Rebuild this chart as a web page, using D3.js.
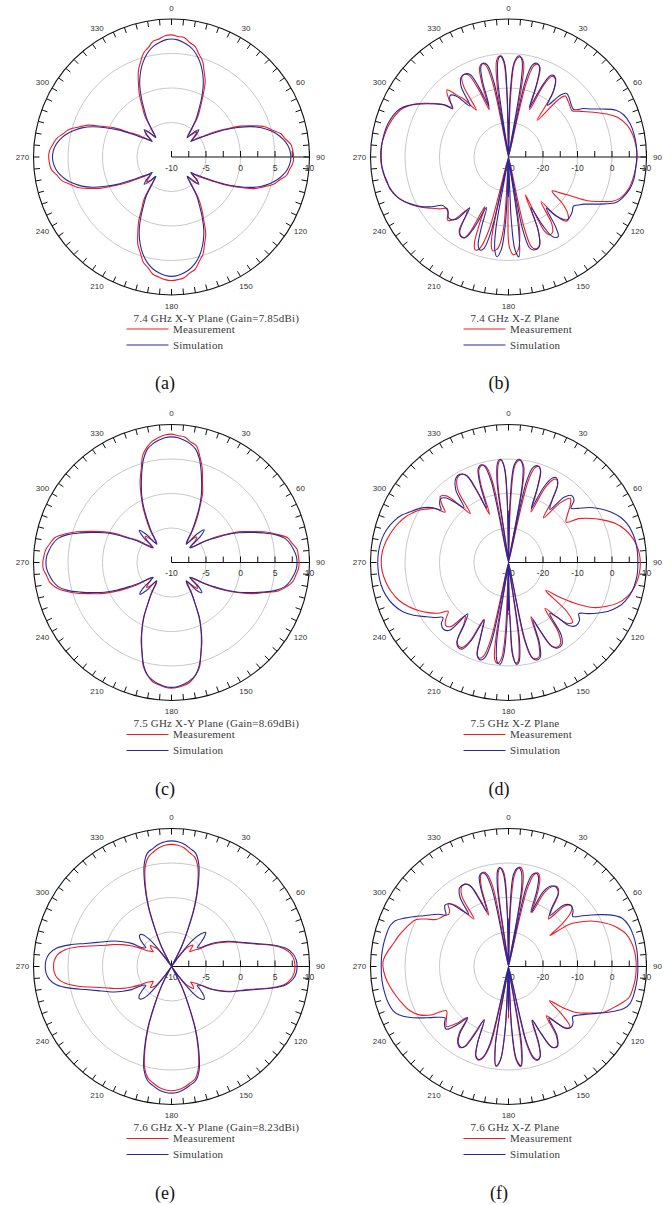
<!DOCTYPE html>
<html>
<head>
<meta charset="utf-8">
<script src="https://cdn.jsdelivr.net/npm/d3@7/dist/d3.min.js"></script>
<style>
  html, body { margin: 0; padding: 0; background: #fff; }
  svg { display: block; }
</style>
</head>
<body>
<svg id="chart" width="672" height="1205"></svg>
<script>
// ---------- X-Y plane cuts: gain (dBi) every 3 degrees, starting at 0 deg ----------
const xyStep = 3;

const xy74Meas = [
  7.7, 7.5, 7.4, 6.8, 6.4, 5.4, 4.6, 3.2, 2.0, 0.1, -1.6, -3.0, -5.0, -6.0, -5.6, -4.8, -5.5, -6.2, -5.4, -4.4, -2.7, -1.0, 1.0, 2.6, 4.2, 5.1, 6.2, 6.7, 7.4, 7.6,
  7.7, 7.6, 7.2, 6.9, 6.0, 5.3, 4.0, 2.8, 0.8, -0.9, -2.9, -4.2, -5.3, -6.1, -5.0, -4.6, -5.6, -6.3, -5.2, -2.8, -1.2, 0.3, 2.2, 3.4, 4.8, 5.6, 6.6, 7.0, 7.6, 7.8,
  7.9, 7.8, 7.5, 7.2, 6.4, 5.8, 4.6, 3.6, 2.0, 0.5, -1.4, -2.7, -5.1, -6.2, -5.4, -4.9, -5.7, -6.0, -5.3, -4.3, -2.6, -0.9, 1.1, 2.7, 4.3, 5.2, 6.3, 6.8, 7.5, 7.7,
  7.8, 7.7, 7.3, 6.9, 6.1, 5.4, 4.1, 2.9, 0.9, -0.7, -2.8, -4.1, -5.5, -6.1, -5.0, -4.7, -5.4, -6.2, -5.1, -2.9, -1.5, 0.3, 1.8, 3.4, 4.5, 5.6, 6.2, 7.0, 7.2, 7.6
];
const xy74Sim = [
  7.1, 7.0, 6.7, 6.3, 5.7, 4.9, 3.9, 2.7, 1.3, -0.4, -2.1, -3.5, -5.4, -6.4, -5.2, -4.4, -5.2, -6.4, -5.6, -4.7, -3.2, -1.3, 0.5, 2.3, 3.7, 4.8, 5.7, 6.4, 6.9, 7.2,
  7.3, 7.2, 6.9, 6.4, 5.7, 4.8, 3.7, 2.3, 0.5, -1.3, -3.2, -4.7, -5.6, -6.4, -5.2, -4.4, -5.2, -6.4, -5.4, -3.3, -1.9, -0.2, 1.5, 2.9, 4.1, 5.1, 5.9, 6.5, 6.9, 7.2,
  7.3, 7.2, 6.9, 6.5, 5.9, 5.1, 4.1, 2.9, 1.5, -0.2, -1.9, -3.3, -5.4, -6.4, -5.2, -4.4, -5.2, -6.4, -5.6, -4.75, -3.25, -1.35, 0.45, 2.25, 3.65, 4.75, 5.65, 6.35, 6.85, 7.15,
  7.25, 7.15, 6.85, 6.35, 5.65, 4.75, 3.65, 2.25, 0.45, -1.35, -3.25, -4.75, -5.6, -6.4, -5.2, -4.4, -5.2, -6.4, -5.4, -3.5, -2.1, -0.4, 1.3, 2.7, 3.9, 4.9, 5.7, 6.3, 6.7, 7.0
];

const xy75Meas = [
  8.6, 8.4, 8.3, 7.7, 7.3, 5.9, 4.4, 2.5, 1.1, -0.9, -2.6, -4.3, -5.8, -6.4, -5.3, -4.8, -5.5, -6.5, -6.0, -4.4, -2.6, -0.9, 1.0, 2.5, 4.3, 5.8, 7.2, 7.7, 8.3, 8.4,
  8.5, 8.4, 8.1, 7.8, 7.0, 6.0, 4.1, 2.6, 0.8, -1.0, -2.7, -4.4, -5.9, -6.3, -5.1, -4.7, -5.6, -6.4, -5.8, -4.5, -3.2, -1.1, 0.5, 2.3, 3.8, 5.7, 6.7, 7.5, 7.9, 8.1,
  8.2, 8.1, 7.8, 7.5, 6.7, 5.7, 3.8, 2.3, 0.5, -1.1, -3.2, -4.5, -5.9, -6.5, -5.4, -4.9, -5.6, -6.3, -5.9, -4.1, -2.5, -0.7, 1.1, 2.6, 4.4, 6.0, 7.2, 7.9, 8.2, 8.6,
  8.65, 8.5, 8.3, 7.8, 7.3, 6.0, 4.4, 2.6, 1.0, -0.7, -2.8, -4.1, -5.7, -6.4, -5.2, -4.6, -5.4, -6.4, -5.9, -4.2, -2.6, -0.8, 0.9, 2.7, 4.2, 6.1, 7.1, 7.8, 8.2, 8.5
];
const xy75Sim = [
  8.2, 8.1, 7.8, 7.4, 6.8, 5.6, 3.9, 2.2, 0.6, -1.2, -3.1, -4.6, -6.2, -6.6, -4.4, -3.3, -4.4, -6.6, -6.2, -4.6, -3.1, -1.2, 0.6, 2.2, 3.9, 5.6, 6.8, 7.4, 7.8, 8.1,
  8.2, 8.1, 7.8, 7.4, 6.8, 5.6, 3.9, 2.2, 0.6, -1.2, -3.1, -4.6, -6.2, -6.6, -4.6, -3.8, -4.6, -6.6, -6.2, -4.7, -3.2, -1.3, 0.5, 2.1, 3.8, 5.5, 6.7, 7.3, 7.7, 8.0,
  8.1, 8.0, 7.7, 7.3, 6.7, 5.5, 3.8, 2.1, 0.5, -1.3, -3.2, -4.7, -6.2, -6.6, -4.5, -3.5, -4.5, -6.6, -6.2, -4.6, -3.1, -1.2, 0.6, 2.2, 3.9, 5.6, 6.8, 7.4, 7.8, 8.1,
  8.2, 8.1, 7.8, 7.4, 6.8, 5.6, 3.9, 2.2, 0.6, -1.2, -3.1, -4.6, -6.2, -6.6, -4.5, -3.4, -4.5, -6.6, -6.2, -4.6, -3.1, -1.2, 0.6, 2.2, 3.9, 5.6, 6.8, 7.4, 7.8, 8.1
];

const xy76Meas = [
  7.7, 7.6, 7.3, 6.7, 6.2, 4.8, 2.2, -0.8, -4.4, -7.0, -9.8, -11, -8.5, -6.5, -6.0, -5.6, -6.2, -6.6, -6.0, -5.4, -3.8, -2.5, -1.3, -0.2, 1.0, 2.6, 4.8, 6.5, 7.4, 7.8,
  7.9, 7.8, 7.4, 6.6, 4.8, 2.6, 1.0, -0.1, -1.2, -2.4, -3.7, -5.3, -6.0, -6.4, -5.8, -5.5, -6.0, -6.7, -8.5, -11, -9.5, -6.8, -4.3, -0.6, 2.5, 5.1, 6.6, 7.1, 7.6, 7.9,
  8.0, 7.9, 7.6, 7.1, 6.5, 5.1, 2.4, -0.7, -4.4, -7.0, -10, -11, -8.5, -6.5, -6.0, -5.7, -6.2, -6.6, -6.2, -5.8, -4.6, -3.4, -2.2, -1.1, 0.0, 1.6, 3.8, 5.6, 6.6, 7.0,
  7.1, 7.0, 6.6, 5.6, 3.8, 1.6, 0.0, -1.1, -2.2, -3.4, -4.6, -5.8, -6.2, -6.6, -6.0, -5.7, -6.2, -6.6, -8.5, -11, -9.8, -7.0, -4.5, -0.8, 2.2, 4.8, 6.2, 6.8, 7.3, 7.6
];
const xy76Sim = [
  8.2, 8.1, 7.8, 7.3, 6.8, 5.3, 2.6, -0.5, -4.2, -6.8, -9.8, -11, -8.0, -5.0, -3.6, -3.0, -3.6, -4.6, -5.4, -5.0, -3.4, -2.2, -1.0, 0.0, 1.2, 2.8, 5.0, 6.8, 7.7, 8.1,
  8.2, 8.1, 7.7, 6.8, 5.0, 2.8, 1.2, 0.0, -1.0, -2.2, -3.4, -5.0, -5.4, -4.6, -3.7, -3.3, -3.7, -5.0, -8.0, -11, -9.6, -6.6, -4.0, -0.3, 2.8, 5.5, 6.9, 7.4, 7.9, 8.25,
  8.35, 8.25, 7.95, 7.45, 6.85, 5.45, 2.75, -0.35, -4.05, -6.65, -9.65, -11, -8.0, -5.0, -3.7, -3.4, -3.7, -4.6, -5.4, -5.0, -3.3, -2.1, -0.9, 0.1, 1.3, 2.9, 5.1, 6.9, 7.8, 8.2,
  8.3, 8.2, 7.8, 6.9, 5.1, 2.9, 1.3, 0.1, -0.9, -2.1, -3.3, -5.0, -5.4, -4.6, -3.8, -3.5, -3.8, -5.0, -8.0, -11, -9.8, -6.8, -4.2, -0.5, 2.6, 5.3, 6.8, 7.3, 7.8, 8.1
];

// ---------- X-Z plane cuts: [angle (deg), gain (dBi)] ----------
const xz74Meas = [
  [270,7.1],[275,7.0],[280,6.5],[285,5.9],[290,5.0],[294,4.0],[297,2.6],[300,0.9],[303,-1.4],[306,-3.6],[309,-5.8],[311.5,-8.2],
  [314,-6.0],[317.5,-3.6],[320,-6.5],[322.5,-9],[325.5,-13.5],[327.5,-6],[329.5,-3.3],[331.5,-2.8],[334,-3.6],[336,-8],[338,-15.2],
  [340,-8],[342,-2.8],[344,-1.9],[346,-2.5],[348,-8],[349.5,-40],[351,-9],[353,-1.8],[355,-0.6],[357,-2.2],[358.5,-12],[359.5,-40],
  [0,-19],[0.7,-40],[2,-12],[4,-2.2],[6.5,-0.8],[9,-2.2],[10.5,-9],[12,-40],[13.5,-8],[15.5,-2.6],[17.5,-1.8],[19.5,-2.6],[21.5,-8],
  [24,-15],[26,-7],[28,-3.6],[29.5,-3.3],[32,-4.2],[35,-8],[38,-16.5],[41,-8],[43,-5.8],[46,-6.2],[50,-6.8],[54,-7.2],
  [57,-5.6],[60,-3.8],[63,-1.6],[66.5,1.2],[70,3.6],[75,5.6],[80,6.6],[85,7.1],[90,7.3],
  [95,7.0],[100,6.6],[105,6.0],[110,4.6],[113,2.8],[116,-0.6],[119,-3.8],[122,-8.8],[125,-12],[128,-14],[131,-9],[134,-6],
  [137,-4.8],[139,-5.5],[141.5,-9],[144,-14],[147,-7],[149.5,-4.8],[152,-4.4],[154,-6],[156,-18],[158,-7],[160.5,-3],[163,-2.2],
  [165.5,-3],[167.5,-9],[169.5,-40],[171.5,-8],[174,-3],[177,-1.6],[179.5,-4],[180.5,-16.5],[182,-40],[184,-9],[186.5,-3.5],
  [189.5,-2.4],[191.5,-5],[193,-40],[195,-8],[197.5,-2.2],[199.7,-1.4],[201.5,-3],[203.5,-9],[205.5,-14],[207,-6],[208.5,-3.4],
  [211,-3.1],[214,-4.5],[216,-9],[218,-10.5],[221,-6],[224,-4.6],[227,-6.0],[230,-6.8],[233,-5.0],[236,-3.4],[240,-0.9],[244,1.4],
  [249,3.8],[254,5.2],[258,6.0],[262,6.5],[266,6.9]
];
const xz74Sim = [
  [270,6.9],[275,6.9],[280,6.7],[285,6.3],[290,5.5],[294,4.4],[297,2.8],[300,0.6],[303,-1.7],[306,-3.9],[309,-6.0],[311,-8.6],
  [314,-6.4],[316.7,-5.4],[319.5,-6.8],[323,-11.5],[326,-5.5],[329,-3.2],[332,-2.8],[335,-3.6],[337,-8],[339,-14.2],
  [341,-7],[343,-2.6],[345,-1.8],[347,-2.6],[349,-8],[350.5,-40],[352,-8],[354,-1.5],[355.7,-0.6],[357.5,-2.5],[358.8,-12],[359.5,-40],
  [0,-19],[0.5,-40],[1.5,-12],[3.5,-2.5],[6,-0.5],[8,-1.8],[9.5,-8],[11,-40],[12.5,-8],[14.5,-2.5],[16.8,-1.6],[19,-2.4],[21,-7],
  [23,-14.5],[25,-8],[27,-3.6],[28.5,-3.0],[31,-3.5],[34,-6.5],[37,-11.2],[40,-6.5],[42.5,-5.0],[46,-5.5],[50,-6.3],[54,-6.6],
  [57,-4.2],[60,-2.2],[63,0.6],[66.5,4.0],[70,5.6],[75,6.6],[80,7.0],[85,7.2],[90,7.2],
  [95,7.0],[100,6.9],[105,6.3],[110,5.0],[113,3.8],[116,1.0],[119,-1.8],[122,-4.2],[124.5,-5.4],[127,-6.4],[131,-5.6],[137,-5.1],
  [141,-8],[143.5,-11.5],[146,-5.5],[148,-2.8],[151,-3.6],[153.5,-8],[156,-14],[158,-7],[161,-2.6],[165,-2.1],
  [167,-3],[169,-9],[170.5,-40],[172,-9],[174,-0.9],[176,-3],[177.5,-12],[178.5,-40],[180,-18.4],[181.5,-40],[182.5,-12],[184.5,-3],
  [186.7,-0.9],[188.5,-3],[190,-9],[191.5,-40],[193,-9],[195,-2.6],[197,-1.8],[199,-3],[201,-8],[203.5,-14],[206,-7],[208,-3.6],
  [210.4,-3.2],[213,-4],[215.5,-8],[217.5,-11.5],[220,-6.5],[224.4,-5.2],[228,-6.4],[231,-6.6],[234,-6.2],[237,-3.5],[241,-0.5],[245,1.8],
  [250,4.2],[255,5.6],[258.5,5.9],[262,6.4],[266,6.8]
];

const xz75Meas = [
  [270,6.9],[275,6.7],[280,6.0],[285,5.0],[290,3.8],[294,2.6],[297,1.4],[300,0.2],[303,-1.6],[306,-3.4],[308.5,-6.5],[311,-4.5],
  [314,-2.5],[317,-3.6],[319.5,-8],[322,-12],[325,-4.5],[328.5,-1.5],[331.5,-1.0],[334.5,-2.2],[336.5,-8],[338.5,-15],
  [340.5,-6],[342.5,-1.6],[345,-0.8],[347,-1.6],[349,-7],[350.5,-40],[352.5,-6],[354.5,-0.8],[356,-0.2],[357.8,-3],[359,-14],[359.6,-40],
  [0,-15],[0.5,-40],[2,-12],[4,-1.5],[6.5,-0.2],[9,-1.8],[10.5,-8],[11.8,-40],[13.5,-6],[15.5,-1.6],[17.5,-0.8],[19.5,-2.0],[21.5,-7.5],
  [24,-14],[26,-6],[28.5,-2.6],[30,-2.2],[32.5,-3.6],[35.5,-9],[38,-13.6],[41,-7],[44,-4.2],[47,-5.5],[51,-8],[55,-9.6],
  [58,-6.0],[62,-2.8],[66,0.2],[70,3.0],[74,5.0],[78,6.4],[82,7.4],[86,8.0],[90,8.2],
  [94,8.1],[98,7.7],[102,7.0],[106,5.8],[110,4.0],[114,1.2],[118,-2.2],[121,-6.5],[124,-12],[127,-16.5],[130,-8],[133,-4.6],
  [136,-5.5],[138.5,-9],[141.5,-13],[144.5,-5],[147.5,-2.0],[150.5,-1.8],[153,-3.0],[155.5,-9],[157.5,-13],[159.5,-5],[162,-1.3],
  [164.5,-1.0],[166.5,-2.0],[168.5,-8],[170.5,-40],[172.5,-7],[174.5,-1.2],[176,-0.8],[177.8,-4],[179,-15],[180,-15],[181,-40],
  [182.5,-10],[184,-2.5],[186,-0.6],[188,-1.5],[189.5,-8],[191,-40],[193,-7],[195,-1.8],[197,-1.0],[199,-2.0],[201,-8],[203.5,-12],
  [206,-5],[208.5,-2.0],[211,-1.8],[213.5,-3.2],[216,-8],[219,-10],[222,-5],[225,-4.2],[228,-5.6],[231,-7.5],[234,-5.0],[238,-2.6],
  [242,-0.4],[246,1.6],[251,3.6],[256,5.0],[261,6.0],[266,6.7]
];
const xz75Sim = [
  [270,7.9],[275,7.8],[280,7.4],[285,6.6],[290,5.3],[294,3.8],[297,2.2],[300,0.8],[303,-0.8],[306,-3.0],[308,-5.2],[310,-4.0],
  [313,-3.0],[316,-4.0],[318.5,-7],[321,-9.5],[324,-4],[328,-1.2],[331,-0.8],[334,-1.8],[336,-7],[338,-13],
  [340,-6],[342,-1.5],[344,-0.6],[346,-1.2],[348,-6],[350,-40],[352,-6],[354,-0.6],[355.5,0.0],[357.3,-2],[358.8,-12],[359.5,-40],
  [0,-16],[0.5,-40],[1.5,-12],[3.5,-1.5],[6,0.1],[8.3,-1.5],[10,-7],[11,-40],[12.5,-6],[14.5,-1.5],[16.9,-0.7],[19,-1.6],[21,-6.5],
  [23,-13],[25,-6],[27.5,-2.4],[29.5,-1.8],[32,-3],[35,-8],[38,-10.5],[40.5,-5],[43.5,-3.3],[46.5,-3.8],[49,-6.0],[52,-4.5],
  [56,-1.5],[60,1.0],[64,3.2],[68,5.0],[72,6.2],[77,7.0],[82,7.4],[86,7.5],[90,7.5],
  [94,7.5],[98,7.3],[103,6.8],[108,5.7],[112,4.3],[116,2.2],[120,-0.6],[123,-2.8],[126,-4.8],[129,-3.5],[133,-3.2],[136,-4.5],
  [138.5,-9],[141,-11],[144,-4],[147,-1.6],[150,-1.4],[152.5,-2.5],[155,-8],[157,-12],[159,-5],[161.5,-1.0],[164,-0.6],
  [166,-1.5],[168,-7],[170,-40],[172,-7],[174,-1.0],[175.5,-0.4],[177.2,-3],[178.5,-13],[179.5,-40],[180,-16],[180.5,-40],[181.5,-13],
  [183,-3],[184.8,-0.4],[186.5,-1.0],[188.5,-7],[190,-40],[192,-7],[194,-1.5],[196.3,-0.6],[198.5,-1.5],[200.5,-7],[203,-12],
  [205.5,-5],[208,-1.6],[210.5,-1.4],[213,-2.5],[215.5,-8],[218.5,-11],[221,-4],[224,-3.0],[227.5,-3.6],[230,-5.2],[233,-3.5],[237,-1.2],
  [241,1.5],[245,3.8],[250,5.6],[255,6.8],[260,7.5],[265,7.8]
];

const xz76Meas = [
  [270,6.4],[273,6.3],[277,5.3],[281,4.1],[285,3.2],[289,2.2],[293,1.2],[297,0.0],[300,-2.5],[303,-5.0],[306,-5.8],[309,-6.4],
  [311,-7.0],[313.5,-6.5],[316,-4.8],[319,-6.5],[321.5,-10],[324,-13],[326.5,-5.5],[329.5,-3.2],[332.5,-3.0],[335,-4.5],[337,-9],
  [339,-14],[341,-6],[343,-2.4],[345,-1.7],[347,-2.6],[349,-7],[350.8,-40],[352.5,-7],[354.2,-2],[355.5,-1.3],[357.3,-3],[358.8,-14],
  [359.6,-40],[0,-16],[0.6,-40],[2,-13],[4,-3],[6.5,-1.0],[8.5,-2],[10.2,-7],[11.8,-40],[13.5,-7],[15.5,-2.4],[17.5,-1.6],[19.5,-2.8],
  [21.5,-7],[23.5,-13],[26,-6],[29,-3.4],[31.5,-2.9],[34.5,-4.4],[37,-9],[40,-12],[43,-6],[46,-4.6],[49,-6],[51.5,-10],[53.2,-15],
  [55,-9],[57,-6.6],[61,-2.8],[65,0.2],[69,2.8],[74.6,5.4],[79,6.3],[83,6.8],[87.4,7.0],
  [92,7.0],[96,6.9],[100,6.6],[104.4,6.1],[108,4.4],[112,2.4],[116,0.4],[120,-3.0],[124.2,-6.3],[127,-10],[129.9,-14.5],[132,-9],
  [134.5,-5.0],[137.5,-6.0],[140,-9.5],[142.5,-12],[145.5,-5.5],[148.5,-3.0],[151.5,-3.4],[154,-8.5],[156.5,-13],[158.8,-6],
  [160.8,-2.2],[163,-1.5],[165,-2.6],[167,-7.5],[169,-40],[171,-7],[173,-0.8],[175.3,-2.8],[177.2,-12],[178.7,-40],[180,-15],
  [181.3,-40],[183,-12],[185,-2.6],[187,-0.8],[189.5,-7],[191.2,-40],[193,-7],[195.5,-2.6],[197.5,-1.5],[200,-2.2],[202,-6],
  [204.5,-13],[207,-8],[209,-3.4],[211,-2.6],[214,-3.6],[216.5,-6],[219,-11],[222,-8],[226,-5.0],[230,-6.5],[234.6,-7.9],[238,-3.5],
  [241.5,-0.6],[246,1.4],[250.4,2.5],[255,3.6],[260,4.8],[265,5.8]
];
const xz76Sim = [
  [270,6.9],[275,6.9],[280,6.8],[285,6.6],[289,6.3],[292,5.4],[295,3.2],[298,0.8],[301,-1.4],[304,-3.2],[307,-4.8],[309.5,-6.5],
  [312,-5.2],[314,-4.4],[317,-5.2],[320,-8.5],[322.5,-11],[325,-5.5],[328,-3.2],[331.8,-3.0],[334.5,-4],[336.5,-9],[338.5,-13],
  [340.5,-6],[342,-2.6],[344,-1.8],[346,-2.5],[348,-7],[350,-40],[352,-7],[353.5,-2],[354.8,-1.2],[356.8,-3],[358.5,-13],[359.5,-40],
  [0,-17],[0.5,-40],[1.5,-13],[3.3,-3],[5.8,-1.2],[7.5,-2],[9.5,-7],[11,-40],[12.5,-7],[14.5,-2.5],[16.7,-1.8],[18.5,-2.6],[20.5,-6.5],
  [22.5,-13],[25,-6],[28,-3.6],[31,-3.2],[34,-4.2],[36.5,-9],[39,-11],[42,-6],[45.5,-4.7],[49,-5.2],[52,-6.4],[55,-4.5],
  [58,-1.8],[61,1.0],[64,3.8],[67,5.8],[71,6.8],[76,7.3],[82,7.5],[86,7.5],[90,7.5],
  [94,7.5],[98,7.4],[103,7.2],[107,6.8],[110,5.6],[113,3.2],[116,0.6],[119,-1.8],[122,-3.8],[125,-5.4],[128,-6.4],[131,-5.2],
  [134,-4.7],[137,-5.4],[139.5,-8.5],[142,-11],[145,-5.5],[148.7,-2.8],[152,-3.6],[154,-8],[156,-13],[158.5,-6],[160.5,-2.4],
  [162.5,-1.7],[164.5,-2.6],[166.5,-7],[168.5,-40],[170.5,-7],[172.7,-1.0],[175,-2.8],[177,-12],[178.5,-40],[180,-17],[181.5,-40],
  [183,-12],[185,-2.8],[187.2,-1.0],[189.5,-7],[191.5,-40],[193.5,-7],[195.8,-2.6],[197.8,-1.7],[200,-2.4],[202,-6],[204.5,-13],
  [206.5,-8],[208.5,-3.6],[210.5,-2.8],[213.5,-3.6],[216,-6],[218.5,-11],[221,-8],[224.8,-4.4],[228,-5.0],[231,-6.3],[234,-5.0],
  [237,-2.8],[240,-0.2],[243,2.4],[246,4.6],[249,5.8],[253,6.4],[258,6.7],[264,6.9]
];

// ---------- axis settings ----------
const xyDomain = [-10, 10];
const xyRings = [-5, 0, 5];
const xyTicks = [-10, -7.5, -5, -2.5, 0, 2.5, 5, 7.5, 10];
const xyLabels = [-10, -5, 0, 5, 10];

const xzDomain = [-30, 10];
const xzRings = [-20, -10, 0];
const xzTicks = [-30, -25, -20, -15, -10, -5, 0, 5, 10];
const xzLabels = [-30, -20, -10, 0, 10];

const angleLabels = d3.range(0, 360, 30);
const tags = ['(a)', '(b)', '(c)', '(d)', '(e)', '(f)'];
const titles = [
  '7.4 GHz X-Y Plane (Gain=7.85dBi)', '7.4 GHz X-Z Plane',
  '7.5 GHz X-Y Plane (Gain=8.69dBi)', '7.5 GHz X-Z Plane',
  '7.6 GHz X-Y Plane (Gain=8.23dBi)', '7.6 GHz X-Z Plane'
];
const legendNames = ['Measurement', 'Simulation'];

const toPairs = arr => arr.map((v, i) => [i * xyStep, v]);

const panels = [
  { cx: 171.5, cy: 157,   xy: true,  meas: toPairs(xy74Meas), sim: toPairs(xy74Sim) },
  { cx: 508.5, cy: 157,   xy: false, meas: xz74Meas, sim: xz74Sim },
  { cx: 171.5, cy: 562.5, xy: true,  meas: toPairs(xy75Meas), sim: toPairs(xy75Sim) },
  { cx: 508.5, cy: 562.5, xy: false, meas: xz75Meas, sim: xz75Sim },
  { cx: 171.5, cy: 966.5, xy: true,  meas: toPairs(xy76Meas), sim: toPairs(xy76Sim) },
  { cx: 508.5, cy: 966.5, xy: false, meas: xz76Meas, sim: xz76Sim }
];

const R = 138;
const RED = '#ec1c24';
const BLUE = '#29299b';
const rad = Math.PI / 180;
const svg = d3.select('#chart');

panels.forEach((p, k) => {
  const domain = p.xy ? xyDomain : xzDomain;
  const rings = p.xy ? xyRings : xzRings;
  const ticks = p.xy ? xyTicks : xzTicks;
  const labels = p.xy ? xyLabels : xzLabels;

  const r = d3.scaleLinear().domain(domain).range([0, R]).clamp(true);
  const g = svg.append('g').attr('transform', `translate(${p.cx},${p.cy})`);

  // grid rings
  g.selectAll('circle.ring').data(rings).join('circle')
    .attr('class', 'ring')
    .attr('r', d => r(d))
    .attr('fill', 'none')
    .attr('stroke', '#c2c2c2')
    .attr('stroke-width', 0.9);

  // outer ring with angular ticks every 5 degrees
  g.append('circle').attr('r', R).attr('fill', 'none')
    .attr('stroke', '#111').attr('stroke-width', 1.1);

  g.selectAll('line.atick').data(d3.range(0, 360, 5)).join('line')
    .attr('class', 'atick')
    .attr('x1', d => R * Math.sin(d * rad))
    .attr('y1', d => -R * Math.cos(d * rad))
    .attr('x2', d => (R - 6) * Math.sin(d * rad))
    .attr('y2', d => -(R - 6) * Math.cos(d * rad))
    .attr('stroke', '#111').attr('stroke-width', 1);

  g.selectAll('text.alab').data(angleLabels).join('text')
    .attr('class', 'alab')
    .attr('x', d => 149 * Math.sin(d * rad))
    .attr('y', d => -149 * Math.cos(d * rad))
    .attr('dy', '0.35em')
    .attr('text-anchor', 'middle')
    .attr('font-family', 'Liberation Sans, Arial, sans-serif')
    .attr('font-size', 8)
    .attr('fill', '#333')
    .text(d => d);

  // radial axis along 90 deg
  g.append('line').attr('x1', 0).attr('y1', 0).attr('x2', R).attr('y2', 0)
    .attr('stroke', '#111').attr('stroke-width', 1.1);
  g.selectAll('line.rtick').data(ticks).join('line')
    .attr('class', 'rtick')
    .attr('x1', d => r(d)).attr('x2', d => r(d))
    .attr('y1', 0).attr('y2', -6)
    .attr('stroke', '#111').attr('stroke-width', 1);
  g.selectAll('text.rlab').data(labels).join('text')
    .attr('class', 'rlab')
    .attr('x', d => r(d))
    .attr('y', 11)
    .attr('dy', '0.35em')
    .attr('text-anchor', 'middle')
    .attr('font-family', 'Liberation Sans, Arial, sans-serif')
    .attr('font-size', 8.5)
    .attr('fill', '#333')
    .text(d => d);

  // traces
  const trace = d3.lineRadial()
    .angle(d => d[0] * rad)
    .radius(d => r(d[1]))
    .curve(d3.curveCatmullRomClosed.alpha(0.5));

  g.append('path').datum(p.meas).attr('d', trace)
    .attr('fill', 'none').attr('stroke', RED).attr('stroke-width', 1.1);
  g.append('path').datum(p.sim).attr('d', trace)
    .attr('fill', 'none').attr('stroke', BLUE).attr('stroke-width', 1.1);

  // caption and legend
  const serif = 'Liberation Serif, Times New Roman, serif';
  g.append('text').attr('x', -38).attr('y', 164.5)
    .attr('font-family', serif).attr('font-size', 11).attr('fill', '#3a3a3a')
    .attr('letter-spacing', 0.2)
    .text(titles[k]);
  [RED, BLUE].forEach((c, j) => {
    const y = 172 + j * 16;
    g.append('line').attr('x1', -45).attr('x2', -3).attr('y1', y).attr('y2', y)
      .attr('stroke', c).attr('stroke-width', 1.1);
    g.append('text').attr('x', 1.5).attr('y', y + 3.5)
      .attr('font-family', serif).attr('font-size', 11).attr('fill', '#3a3a3a')
      .attr('letter-spacing', 0.2)
      .text(legendNames[j]);
  });

  g.append('text').attr('x', k % 2 === 0 ? -6.5 : -9.5).attr('y', 232)
    .attr('text-anchor', 'middle')
    .attr('font-family', serif).attr('font-size', 18).attr('fill', '#111')
    .text(tags[k]);
});
</script>
</body>
</html>
